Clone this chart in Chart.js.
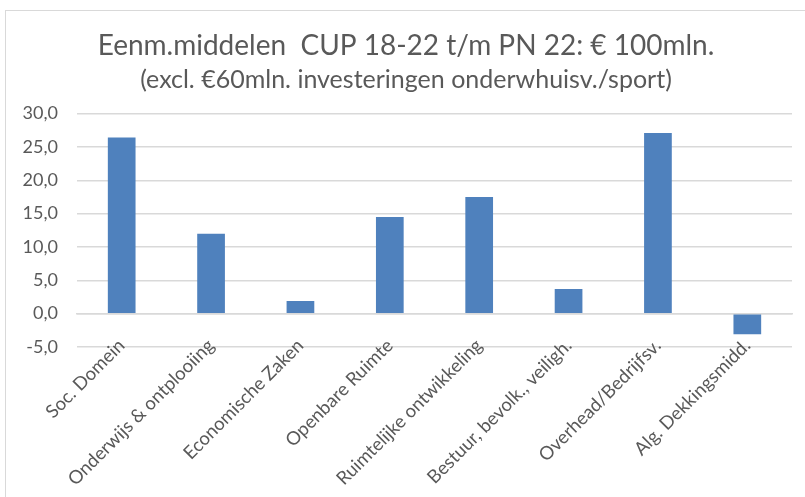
<!DOCTYPE html>
<html>
<head>
<meta charset="utf-8">
<script src="https://cdn.jsdelivr.net/npm/chart.js@4"></script>
<style>
  body { margin: 0; background: #fff; }
  #frame { position: absolute; left: 5px; top: 10px; width: 900px; height: 600px;
           border-top: 1px solid #d9d9d9; border-left: 1px solid #d9d9d9; }
  #myChart { position: absolute; left: 0; top: 0; }
</style>
</head>
<body>
<div id="frame"></div>
<canvas id="myChart" width="805" height="497"></canvas>
<script>
const categories = ['Soc. Domein', 'Onderwijs & ontplooiing', 'Economische Zaken', 'Openbare Ruimte',
  'Ruimtelijke ontwikkeling', 'Bestuur, bevolk., veiligh.', 'Overhead/Bedrijfsv.', 'Alg. Dekkingsmidd.'];
const amounts = [26.4, 12.0, 1.9, 14.5, 17.5, 3.7, 27.1, -3.1];
const yTicks = [-5, 0, 5, 10, 15, 20, 25, 30];

const grey = '#595959';

const ctx = document.getElementById('myChart').getContext('2d');
const myChart = new Chart(ctx, {
    type: 'bar',
    data: {
        labels: categories,
        datasets: [{
            data: amounts,
            backgroundColor: '#4f81bd',
            borderWidth: 0,
            barPercentage: 0.31,
            categoryPercentage: 1
        }]
    },
    options: {
        responsive: false,
        animation: false,
        layout: { padding: { left: 20, right: 13, top: 0, bottom: 150 } },
        plugins: {
            legend: { display: false },
            tooltip: { enabled: false },
            title: {
                display: true,
                text: 'Eenm.middelen  CUP 18-22 t/m PN 22: € 100mln.',
                color: grey,
                font: { family: 'Lato', size: 28, weight: 'normal' },
                padding: { top: 29, bottom: 2 }
            },
            subtitle: {
                display: true,
                text: '(excl. €60mln. investeringen onderwhuisv./sport)',
                color: grey,
                font: { family: 'Lato', size: 25, weight: 'normal' },
                padding: { top: 0, bottom: 19 }
            }
        },
        scales: {
            x: {
                position: { y: 0 },
                grid: { display: false, drawTicks: false },
                border: { display: true, color: '#d9d9d9', width: 1.5 },
                ticks: {
                    color: grey,
                    font: { family: 'Lato', size: 18.5 },
                    minRotation: 45,
                    maxRotation: 45,
                    autoSkip: false,
                    padding: 21
                }
            },
            y: {
                min: -5,
                max: 30,
                afterBuildTicks: (scale) => { scale.ticks = yTicks.map(v => ({ value: v })); },
                afterFit: (scale) => { scale.width = 57; },
                grid: { color: '#d9d9d9', lineWidth: 1.5, drawTicks: false },
                border: { display: false },
                ticks: {
                    color: grey,
                    font: { family: 'Lato', size: 18 },
                    padding: 19,
                    callback: (v) => v.toFixed(1).replace('.', ',')
                }
            }
        }
    }
});
</script>
</body>
</html>
